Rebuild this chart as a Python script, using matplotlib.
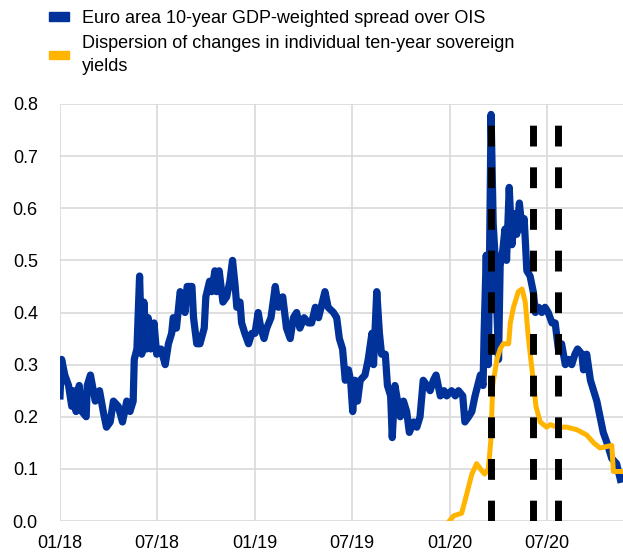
import numpy as np
import pandas as pd
import matplotlib
matplotlib.use('Agg')
import matplotlib.pyplot as plt
import matplotlib.dates as mdates
from matplotlib.patches import Patch

plt.rcParams['font.family'] = ['Liberation Sans', 'DejaVu Sans']

# --- Datos ------------------------------------------------------------------
spread_dates = [
    '2018-01-01', '2018-01-04', '2018-01-10', '2018-01-17', '2018-01-23', '2018-01-26',
    '2018-01-31', '2018-02-06', '2018-02-11', '2018-02-19', '2018-02-21', '2018-02-27',
    '2018-03-08', '2018-03-16', '2018-03-23', '2018-03-29', '2018-04-05', '2018-04-11',
    '2018-04-20', '2018-04-28', '2018-05-06', '2018-05-12', '2018-05-18', '2018-05-20',
    '2018-05-25', '2018-05-30', '2018-06-03', '2018-06-07', '2018-06-12', '2018-06-15',
    '2018-06-20', '2018-06-26', '2018-07-01', '2018-07-09', '2018-07-17', '2018-07-23',
    '2018-07-29', '2018-08-01', '2018-08-07', '2018-08-14', '2018-08-19', '2018-08-23',
    '2018-08-27', '2018-09-05', '2018-09-08', '2018-09-14', '2018-09-20', '2018-09-28',
    '2018-10-01', '2018-10-08', '2018-10-12', '2018-10-18', '2018-10-21', '2018-10-26',
    '2018-11-02', '2018-11-09', '2018-11-15', '2018-11-20', '2018-11-25', '2018-11-28',
    '2018-12-04', '2018-12-07', '2018-12-13', '2018-12-20', '2018-12-26', '2019-01-01',
    '2019-01-07', '2019-01-12', '2019-01-18', '2019-01-23', '2019-01-31', '2019-02-08',
    '2019-02-14', '2019-02-22', '2019-03-01', '2019-03-08', '2019-03-14', '2019-03-20',
    '2019-03-26', '2019-04-03', '2019-04-11', '2019-04-17', '2019-04-24', '2019-04-30',
    '2019-05-12', '2019-05-18', '2019-05-28', '2019-06-03', '2019-06-08', '2019-06-14',
    '2019-06-19', '2019-06-25', '2019-06-29', '2019-07-03', '2019-07-07', '2019-07-12',
    '2019-07-17', '2019-07-26', '2019-08-01', '2019-08-08', '2019-08-11', '2019-08-17',
    '2019-08-22', '2019-08-26', '2019-09-02', '2019-09-06', '2019-09-12', '2019-09-15',
    '2019-09-20', '2019-09-25', '2019-09-30', '2019-10-06', '2019-10-12', '2019-10-17',
    '2019-10-25', '2019-10-31', '2019-11-06', '2019-11-12', '2019-11-19', '2019-11-25',
    '2019-12-01', '2019-12-06', '2019-12-14', '2019-12-21', '2019-12-26', '2020-01-04',
    '2020-01-11', '2020-01-17', '2020-01-25', '2020-01-29', '2020-02-05', '2020-02-11',
    '2020-02-17', '2020-02-27', '2020-03-03', '2020-03-05', '2020-03-09', '2020-03-13',
    '2020-03-18', '2020-03-22', '2020-03-26', '2020-03-29', '2020-04-01', '2020-04-04',
    '2020-04-09', '2020-04-13', '2020-04-16', '2020-04-21', '2020-04-26', '2020-05-02',
    '2020-05-05', '2020-05-10', '2020-05-15', '2020-05-19', '2020-05-24', '2020-05-30',
    '2020-06-05', '2020-06-09', '2020-06-15', '2020-06-21', '2020-06-27', '2020-07-03',
    '2020-07-10', '2020-07-16', '2020-07-22', '2020-07-28', '2020-08-04', '2020-08-10',
    '2020-08-16', '2020-08-22', '2020-08-27', '2020-09-04', '2020-09-07', '2020-09-13',
    '2020-09-20', '2020-09-26', '2020-10-02', '2020-10-08', '2020-10-14', '2020-10-21',
    '2020-10-30', '2020-11-08', '2020-11-15',
]
spread_values = [
    0.24, 0.31, 0.28, 0.26, 0.22, 0.25,
    0.21, 0.26, 0.21, 0.20, 0.26, 0.28,
    0.23, 0.25, 0.21, 0.18, 0.19, 0.23,
    0.22, 0.19, 0.23, 0.21, 0.23, 0.31,
    0.33, 0.47, 0.32, 0.42, 0.33, 0.39,
    0.33, 0.38, 0.32, 0.33, 0.30, 0.34,
    0.36, 0.39, 0.37, 0.44, 0.42, 0.40,
    0.45, 0.45, 0.39, 0.34, 0.34, 0.37,
    0.43, 0.46, 0.44, 0.48, 0.44, 0.48,
    0.42, 0.43, 0.46, 0.50, 0.45, 0.41,
    0.42, 0.38, 0.36, 0.34, 0.36, 0.36,
    0.40, 0.37, 0.35, 0.37, 0.39, 0.45,
    0.41, 0.43, 0.37, 0.35, 0.39, 0.40,
    0.37, 0.39, 0.38, 0.38, 0.41, 0.39,
    0.44, 0.41, 0.40, 0.39, 0.35, 0.33,
    0.27, 0.29, 0.27, 0.21, 0.27, 0.23,
    0.27, 0.28, 0.31, 0.36, 0.30, 0.44,
    0.36, 0.32, 0.32, 0.26, 0.24, 0.16,
    0.26, 0.23, 0.20, 0.23, 0.21, 0.17,
    0.19, 0.18, 0.20, 0.27, 0.26, 0.25,
    0.27, 0.28, 0.24, 0.25, 0.24, 0.25,
    0.24, 0.25, 0.24, 0.19, 0.20, 0.21,
    0.24, 0.28, 0.26, 0.36, 0.51, 0.30,
    0.78, 0.57, 0.50, 0.40, 0.31, 0.49,
    0.52, 0.56, 0.50, 0.64, 0.53, 0.59,
    0.55, 0.61, 0.56, 0.58, 0.48, 0.47,
    0.44, 0.40, 0.41, 0.40, 0.41, 0.40,
    0.38, 0.38, 0.33, 0.34, 0.30, 0.31,
    0.30, 0.32, 0.33, 0.32, 0.29, 0.32,
    0.27, 0.25, 0.23, 0.20, 0.17, 0.15,
    0.12, 0.11, 0.08,
]

disp_dates = [
    '2019-12-31', '2020-01-08', '2020-01-23', '2020-02-01', '2020-02-11', '2020-02-20',
    '2020-02-27', '2020-03-06', '2020-03-13', '2020-03-18', '2020-03-21', '2020-03-29',
    '2020-04-04', '2020-04-10', '2020-04-20', '2020-04-23', '2020-04-29', '2020-05-08',
    '2020-05-15', '2020-05-21', '2020-05-27', '2020-06-05', '2020-06-10', '2020-06-18',
    '2020-06-30', '2020-07-07', '2020-07-19', '2020-08-07', '2020-08-26', '2020-09-13',
    '2020-09-26', '2020-10-08', '2020-10-30', '2020-11-02', '2020-11-18',
]
disp_values = [
    0.00, 0.01, 0.015, 0.05, 0.09, 0.11,
    0.10, 0.09, 0.10, 0.16, 0.26, 0.31,
    0.33, 0.34, 0.34, 0.38, 0.41, 0.44,
    0.445, 0.42, 0.35, 0.27, 0.22, 0.19,
    0.18, 0.185, 0.18, 0.18, 0.175, 0.165,
    0.15, 0.14, 0.145, 0.095, 0.095,
]

event_dates = ['2020-03-18', '2020-06-04', '2020-07-21']
event_top = 0.777

labels = ['Euro area 10-year GDP-weighted spread over OIS',
          'Dispersion of changes in individual ten-year sovereign\nyields']
blue = '#003299'
yellow = '#FFB400'

# --- Figura -----------------------------------------------------------------
fig = plt.figure(figsize=(6.23, 5.53), dpi=100)
ax = fig.add_axes([60/623, 32/553, 563/623, 417/553])

ax.plot(pd.to_datetime(spread_dates), spread_values, color=blue, lw=5.2,
        solid_joinstyle='round', zorder=3)
ax.plot(pd.to_datetime(disp_dates), disp_values, color=yellow, lw=3.6,
        solid_joinstyle='round', zorder=3)
for d in event_dates:
    ax.plot([pd.Timestamp(d)] * 2, [0, event_top], color='black', lw=5,
            linestyle=(0, (3, 3)), dash_capstyle='butt', zorder=4)

ax.set_ylim(0, 0.8)
ax.set_yticks(np.arange(0, 0.81, 0.1))
ax.yaxis.set_major_formatter(plt.FormatStrFormatter('%.1f'))
ax.set_xlim(pd.Timestamp('2018-01-01'), pd.Timestamp('2020-11-20'))
xt = pd.to_datetime(['2018-01-01', '2018-07-01', '2019-01-01', '2019-07-01',
                     '2020-01-01', '2020-07-01'])
ax.set_xticks(xt)
ax.xaxis.set_major_formatter(mdates.DateFormatter('%m/%y'))
ax.tick_params(length=0, labelsize=13, colors='black')
ax.tick_params(axis='y', pad=16)
ax.tick_params(axis='x', pad=10)
ax.grid(True, color='#d9d9d9', lw=1.2)
ax.set_axisbelow(True)
for s in ax.spines.values():
    s.set_visible(False)

handles = [Patch(color=blue), Patch(color=yellow)]
leg = fig.legend(handles, labels, loc='upper left', bbox_to_anchor=(39/623, 1.0),
                 frameon=False, fontsize=13, handlelength=1.1, handleheight=0.35,
                 handletextpad=0.75, labelspacing=0.45, borderaxespad=0.15)
for t in leg.get_texts():
    t.set_linespacing(1.45)

fig.savefig('out.png', dpi=100)
